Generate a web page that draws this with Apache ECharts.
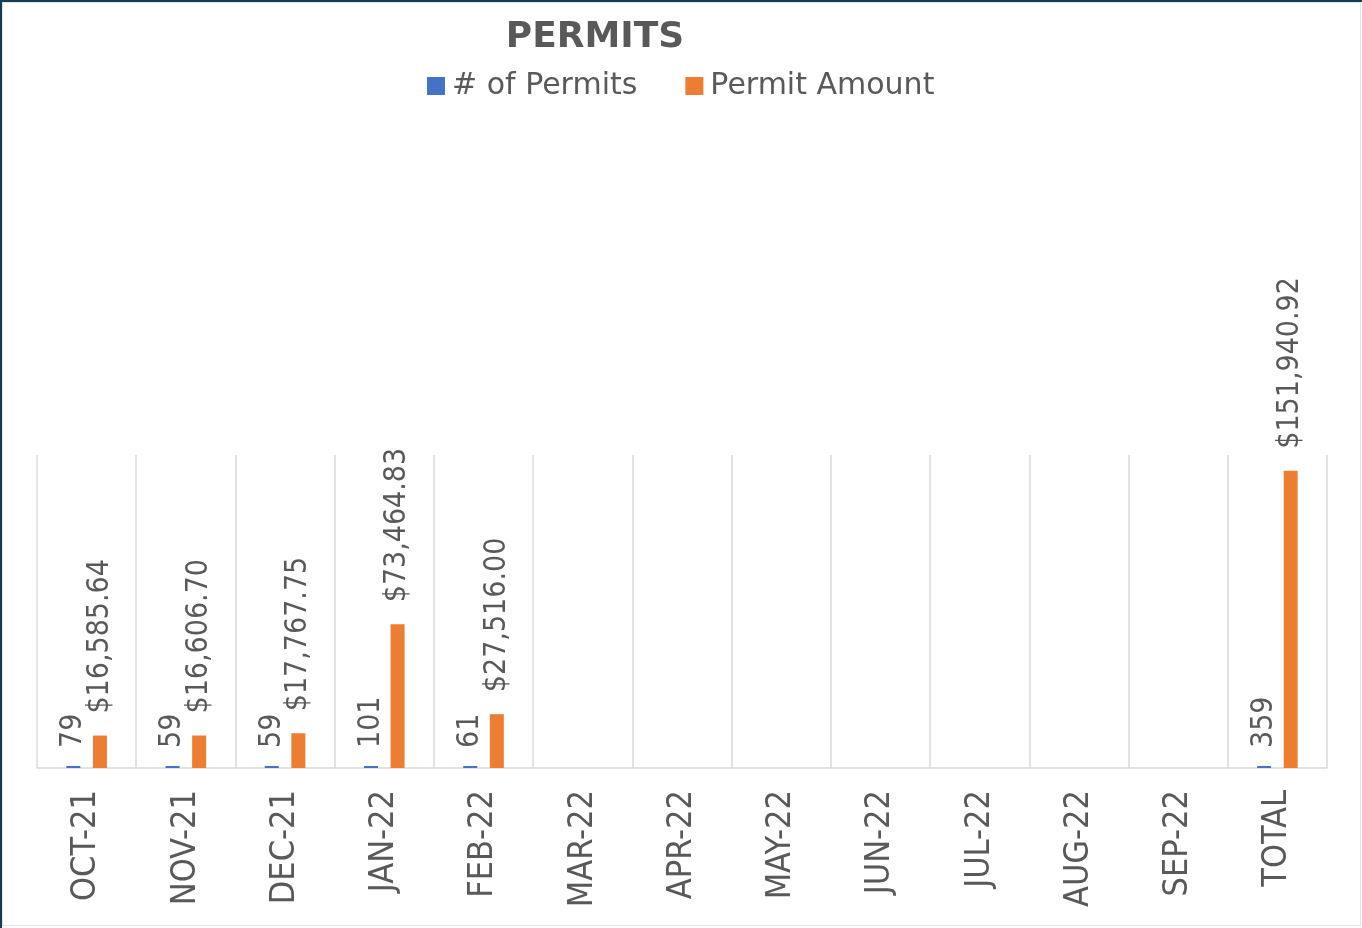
<!DOCTYPE html>
<html>
<head>
<meta charset="utf-8">
<script src="https://cdn.jsdelivr.net/npm/echarts@6/dist/echarts.min.js"></script>
<style>
  html, body { margin: 0; padding: 0; background: #ffffff; }
  #wrap { position: relative; width: 1362px; height: 928px; overflow: hidden; }
  #chart { position: absolute; left: 0; top: 0; width: 1362px; height: 928px; }
  #frame { position: absolute; left: 0; top: 0; width: 1362px; height: 928px; box-sizing: border-box;
           border-top: 2px solid #123d52; border-left: 2px solid #123d52; pointer-events: none; }
  #inner { position: absolute; left: 2px; top: 2px; width: 1359px; height: 924px; box-sizing: border-box;
           border: 1px solid #e3e3e3; pointer-events: none; }
</style>
</head>
<body>
<div id="wrap">
  <div id="chart"></div>
  <div id="frame"></div>
  <div id="inner"></div>
</div>
<script>
const categories = ['OCT-21','NOV-21','DEC-21','JAN-22','FEB-22','MAR-22','APR-22','MAY-22','JUN-22','JUL-22','AUG-22','SEP-22','TOTAL'];
const permitCounts = [79, 59, 59, 101, 61, null, null, null, null, null, null, null, 359];
const permitAmounts = [16585.64, 16606.70, 17767.75, 73464.83, 27516.00, null, null, null, null, null, null, null, 151940.92];
const seriesNames = ['# of Permits', 'Permit Amount'];
const titleText = 'PERMITS';

function fmtMoney(v) {
  return '$' + Number(v).toLocaleString('en-US', { minimumFractionDigits: 2, maximumFractionDigits: 2 });
}

const chart = echarts.init(document.getElementById('chart'), null, { renderer: 'canvas' });
const gray = '#595959';
const narrow = "'Liberation Sans Narrow', 'DejaVu Sans Condensed', sans-serif";

chart.setOption({
  backgroundColor: '#ffffff',
  animation: false,
  title: {
    text: titleText,
    left: 590,
    textAlign: 'center',
    top: 15,
    textStyle: { fontFamily: 'DejaVu Sans', fontWeight: 'bold', fontSize: 36, color: gray }
  },
  legend: {
    left: 422,
    top: 66,
    itemWidth: 18,
    itemHeight: 18,
    itemGap: 48,
    icon: 'rect',
    textStyle: { fontFamily: 'DejaVu Sans', fontSize: 30, color: gray, padding: [0, 0, 0, 2] },
    data: seriesNames
  },
  grid: { left: 37, right: 35, top: 455, bottom: 160 },
  xAxis: {
    type: 'category',
    data: categories,
    boundaryGap: true,
    axisLine: { show: true, lineStyle: { color: '#d9d9d9', width: 1.5 } },
    axisTick: { show: false },
    splitLine: { show: true, lineStyle: { color: '#d9d9d9', width: 1.5 } },
    axisLabel: {
      rotate: 90,
      margin: 22,
      interval: 0,
      fontFamily: narrow,
      fontSize: 34,
      color: gray
    }
  },
  yAxis: {
    type: 'value',
    min: 0,
    max: 160000,
    show: false,
    splitLine: { show: false }
  },
  series: [
    {
      name: seriesNames[0],
      type: 'bar',
      data: permitCounts,
      barWidth: 14,
      barGap: '90%',
      barMinHeight: 2,
      itemStyle: { color: '#4472c4' },
      label: {
        show: true,
        position: 'top',
        rotate: 90,
        align: 'left',
        verticalAlign: 'middle',
        distance: 18,
        fontFamily: narrow,
        fontSize: 30,
        color: gray,
        formatter: p => p.value == null ? '' : String(p.value)
      }
    },
    {
      name: seriesNames[1],
      type: 'bar',
      data: permitAmounts,
      barWidth: 14,
      barGap: '90%',
      itemStyle: { color: '#ed7d31' },
      label: {
        show: true,
        position: 'top',
        rotate: 90,
        align: 'left',
        verticalAlign: 'middle',
        distance: 22,
        fontFamily: narrow,
        fontSize: 30,
        color: gray,
        formatter: p => p.value == null ? '' : fmtMoney(p.value)
      }
    }
  ]
});
</script>
</body>
</html>
